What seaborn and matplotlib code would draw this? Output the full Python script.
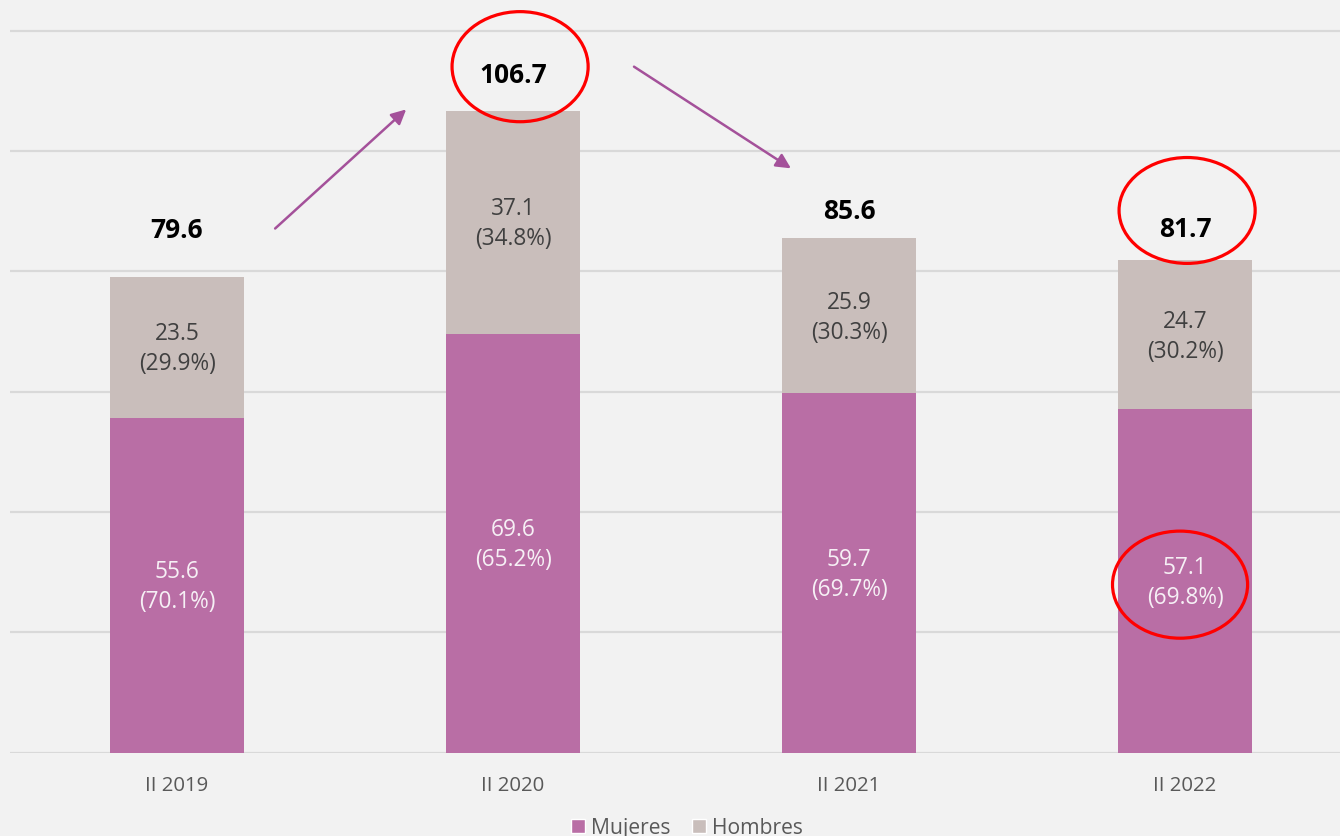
import numpy as np
import pandas as pd
import matplotlib
matplotlib.use("Agg")
import matplotlib.pyplot as plt
import seaborn as sns
from matplotlib.patches import Ellipse, Patch

# ---------------- data ----------------
categories = ["II 2019", "II 2020", "II 2021", "II 2022"]
mujeres = [55.6, 69.6, 59.7, 57.1]
hombres = [23.5, 37.1, 25.9, 24.7]
mujeres_pct = ["70.1%", "65.2%", "69.7%", "69.8%"]
hombres_pct = ["29.9%", "34.8%", "30.3%", "30.2%"]
totales = ["79.6", "106.7", "85.6", "81.7"]

# ---------------- style ----------------
C_M = "#B96EA5"
C_H = "#C9BEBB"
BG = "#F2F2F2"
GRID = "#D9D9D9"
ARROW = "#A4519A"

sns.set_theme(style="white")
plt.rcParams["font.family"] = ["Open Sans", "DejaVu Sans"]

W, H = 1340, 837
fig = plt.figure(figsize=(W / 100, H / 100), dpi=100, facecolor=BG)
ax = fig.add_axes([10 / W, 83.5 / H, 1330 / W, 752 / H])
ax.set_facecolor(BG)

df = pd.DataFrame({"cat": categories, "Mujeres": mujeres, "Hombres": hombres})
df["Total"] = df["Mujeres"] + df["Hombres"]

sns.barplot(data=df, x="cat", y="Total", color=C_H, width=0.4, saturation=1,
            linewidth=0, ax=ax, zorder=2)
sns.barplot(data=df, x="cat", y="Mujeres", color=C_M, width=0.4, saturation=1,
            linewidth=0, ax=ax, zorder=3)

ax.set_xlim(-0.497, 3.461)
ax.set_ylim(0, 125)
ax.set_yticks(np.arange(0, 121, 20))
ax.set_yticklabels([])
ax.yaxis.grid(True, color=GRID, lw=1.6)
ax.set_axisbelow(True)
for s in ax.spines.values():
    s.set_visible(False)
ax.set_xlabel("")
ax.set_ylabel("")
ax.tick_params(axis="x", length=0, pad=16.5, labelsize=14.7, labelcolor="#595959")
ax.tick_params(axis="y", length=0)

# segment labels
for i in range(len(categories)):
    m, h = mujeres[i], hombres[i]
    for txt, dy in ((f"{m}", 10.0), (f"({mujeres_pct[i]})", -11.6)):
        ax.annotate(txt, (i, m / 2), xytext=(0, dy), textcoords="offset points",
                    ha="center", va="center", fontsize=16.3, color="#F6F0F5", zorder=5)
    for txt, dy in ((f"{h}", 10.0), (f"({hombres_pct[i]})", -11.6)):
        ax.annotate(txt, (i, m + h / 2), xytext=(0, dy), textcoords="offset points",
                    ha="center", va="center", fontsize=16.3, color="#404040", zorder=5)

# totals
total_offsets = [34, 26.2, 19.2, 23.2]
for i in range(len(categories)):
    ax.annotate(totales[i], (i, mujeres[i] + hombres[i]), xytext=(0, total_offsets[i]),
                textcoords="offset points", ha="center", va="center",
                fontsize=19, fontweight="bold", color="black", zorder=6,
                annotation_clip=False)

# arrows
arrow_kw = dict(arrowstyle="-|>", color=ARROW, lw=1.8, mutation_scale=22,
                shrinkA=0, shrinkB=0)
ax.annotate("", xy=(0.682, 106.9), xytext=(0.292, 87.1),
            arrowprops=arrow_kw, annotation_clip=False)
ax.annotate("", xy=(1.827, 97.1), xytext=(1.360, 114.0),
            arrowprops=arrow_kw, annotation_clip=False)

# red ellipses
for (cx, cy, w, hgt) in [(1.021, 114.0, 0.405, 18.3),
                         (3.006, 90.1, 0.405, 17.6),
                         (2.985, 27.9, 0.402, 17.8)]:
    ax.add_patch(Ellipse((cx, cy), w, hgt, fill=False, edgecolor="#FF0000",
                         lw=2.3, zorder=7, clip_on=False))

# legend
handles = [Patch(facecolor=C_M, label="Mujeres"), Patch(facecolor=C_H, label="Hombres")]
fig.legend(handles=handles, loc="center", bbox_to_anchor=(687 / W, (H - 829) / H),
           ncol=2, frameon=False, fontsize=15.2, handlelength=0.65, handleheight=0.65,
           handletextpad=0.3, columnspacing=1.0, labelcolor="#595959", borderpad=0)

fig.savefig("out.png", dpi=100, facecolor=BG)
